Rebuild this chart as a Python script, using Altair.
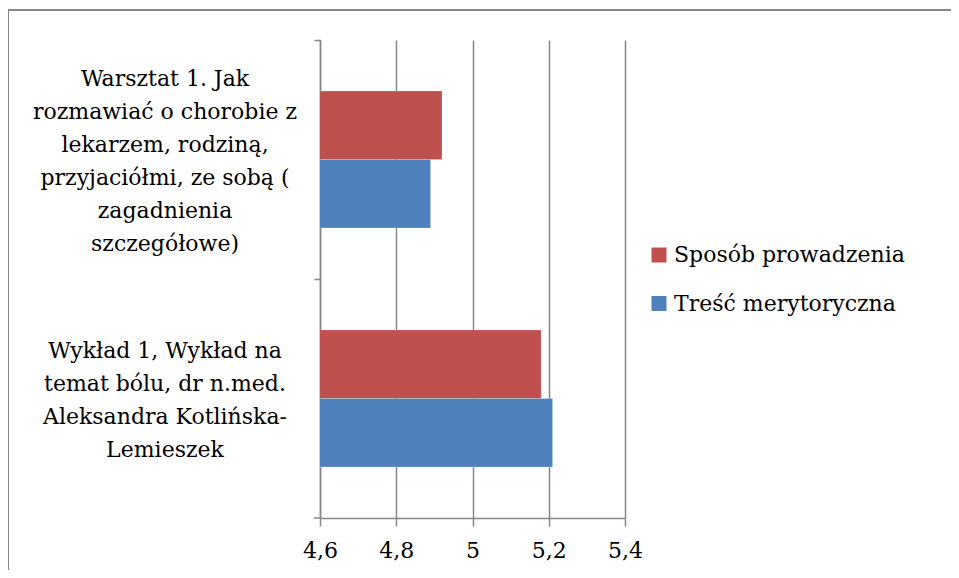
import altair as alt
import pandas as pd

categories = [
    "Warsztat 1. Jak\nrozmawiać o chorobie z\nlekarzem, rodziną,\nprzyjaciółmi, ze sobą (\nzagadnienia\nszczegółowe)",
    "Wykład 1, Wykład na\ntemat bólu, dr n.med.\nAleksandra Kotlińska-\nLemieszek",
]
series = ["Sposób prowadzenia", "Treść merytoryczna"]
sposob = [4.92, 5.18]
tresc = [4.89, 5.21]
x_ticks = [4.6, 4.8, 5.0, 5.2, 5.4]
colors = ["#C0504D", "#4F81BD"]

rows = []
for i, c in enumerate(categories):
    rows.append({"cat": c, "series": series[0], "value": sposob[i]})
    rows.append({"cat": c, "series": series[1], "value": tresc[i]})
df = pd.DataFrame(rows)
lab = pd.DataFrame({"cat": categories})

FONT = "DejaVu Serif"
FS = 22
LH = 33
W, H = 305, 478
P_IN, P_OUT = 0.427, 0.2135
STEP = H / (2 - P_IN + 2 * P_OUT)
BW = STEP * (1 - P_IN)
BAND_EDGE = -(P_IN / 2) / (1 - P_IN)

yscale = alt.Scale(domain=categories, paddingInner=P_IN, paddingOuter=P_OUT)
xscale = alt.Scale(domain=[4.6, 5.4], zero=False, nice=False)

bars = alt.Chart(df).mark_bar(clip=True, stroke="white", strokeWidth=0.5, strokeOpacity=0.4).encode(
    y=alt.Y("cat:N", scale=yscale, sort=categories,
            axis=alt.Axis(title=None, labels=False, ticks=True, bandPosition=BAND_EDGE,
                          tickSize=6, tickColor="#868686", tickWidth=1.5,
                          domainColor="#868686", domainWidth=1.5)),
    yOffset=alt.YOffset("series:N", sort=series, scale=alt.Scale(domain=series, paddingInner=0, paddingOuter=0)),
    x=alt.X("value:Q", scale=xscale,
            axis=alt.Axis(title=None, values=x_ticks, grid=True, gridColor="#868686", gridWidth=1.5,
                          tickSize=8, tickColor="#868686", tickWidth=1.5,
                          domainColor="#868686", domainWidth=1.5, labelFlush=False,
                          labelFont=FONT, labelFontSize=FS, labelColor="#000000", labelPadding=14,
                          labelExpr="replace(format(datum.value, '.1~f'), '.', ',')")),
    color=alt.Color("series:N", sort=series,
                    scale=alt.Scale(domain=series, range=colors),
                    legend=alt.Legend(title=None, orient="none", legendX=328, legendY=204,
                                      symbolType="square", symbolSize=225, symbolStrokeWidth=0,
                                      labelFont=FONT, labelFontSize=FS, labelColor="#000000",
                                      labelLimit=0, labelOffset=4, rowPadding=26.5)),
)

bottom_tick = alt.Chart(lab.head(1)).mark_rule(color="#868686", strokeWidth=1.5).encode(
    x=alt.value(-6), x2=alt.value(0), y=alt.value(H)
)

labels = alt.Chart(lab).transform_calculate(
    off=f"{BW / 2} + 2 - (length(split(datum.cat, '\\n')) - 1) * {LH} / 2"
).mark_text(font=FONT, fontSize=FS, lineBreak="\n", lineHeight=LH,
            align="center", baseline="middle", color="#000000").encode(
    y=alt.Y("cat:N", scale=yscale, sort=categories),
    yOffset=alt.YOffset("off:Q", scale=None),
    x=alt.value(-155),
    text="cat:N",
)

border = alt.Chart(lab.head(1)).mark_rect(fill="transparent", stroke="#868686", strokeWidth=2).encode(
    x=alt.value(-312), y=alt.value(-30), x2=alt.value(800), y2=alt.value(700)
)

chart = alt.layer(border, bars, bottom_tick, labels).properties(
    width=W, height=H,
    padding={"left": 312, "top": 32, "right": 326, "bottom": 52},
    autosize=alt.AutoSizeParams(type="none"),
).configure_view(stroke=None).configure_axis(labelFont=FONT)

chart.save("out.html", embed_options={"renderer": "svg", "actions": False})
